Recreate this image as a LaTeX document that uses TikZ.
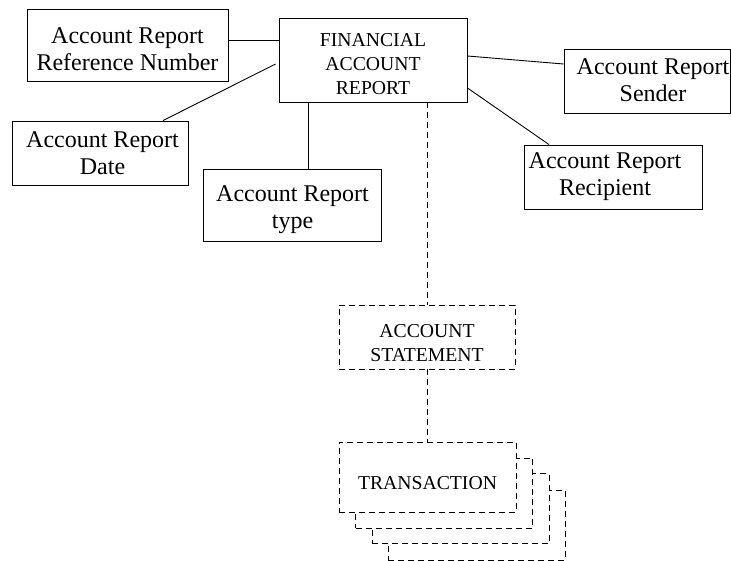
\documentclass[tikz,border=0pt]{standalone}
\usepackage{fontspec}
\setmainfont{Liberation Serif}
\begin{document}
\begin{tikzpicture}[x=1pt,y=-1pt,
  box/.style={draw,line width=0.9pt,inner sep=0pt},
  txt/.style={inner sep=0pt,align=center,font=\fontsize{24}{27}\selectfont},
  captxt/.style={inner sep=0pt,align=center,font=\fontsize{19.7}{24}\selectfont},
  dbox/.style={box,fill=white,dash pattern=on 6pt off 4pt},
  conn/.style={line width=0.9pt},
  dconn/.style={line width=0.9pt,dash pattern=on 6pt off 4pt}]
\useasboundingbox (0,0) rectangle (731,561);
% boxes
\node[box,minimum width=201pt,minimum height=72pt] (ref) at (127.5,45) {};
\node[box,minimum width=188pt,minimum height=84pt] (fin) at (373,60) {};
\node[box,minimum width=176pt,minimum height=64pt] (date) at (100,153) {};
\node[box,minimum width=178pt,minimum height=72pt] (type) at (292.5,205) {};
\node[box,minimum width=166pt,minimum height=64pt] (sender) at (647,81) {};
\node[box,minimum width=178pt,minimum height=64pt] (recip) at (613,177) {};
\node[dbox,minimum width=176pt,minimum height=64pt] (stmt) at (427,337) {};
\node[dbox,minimum width=177pt,minimum height=70pt] (t4) at (476.5,525) {};
\node[dbox,minimum width=177pt,minimum height=70pt] (t3) at (460.5,508.5) {};
\node[dbox,minimum width=177pt,minimum height=70pt] (t2) at (444,493) {};
\node[dbox,minimum width=177pt,minimum height=70pt] (trans) at (427.5,477) {};
% texts
\node[txt] (reft) at (127.5,49) {Account Report\\Reference Number};
\node[captxt] (fint) at (373,64) {FINANCIAL\\ACCOUNT\\REPORT};
\node[txt] (datet) at (102.5,153) {Account Report\\Date};
\node[txt] (typet) at (292.5,210) {Account Report\\type};
\node[txt] (sendert) at (653,80) {Account Report\\Sender};
\node[txt] (recipt) at (605,177) {Account Report\\Recipient};
\node[captxt] (stmtt) at (427,343) {ACCOUNT\\STATEMENT};
\node[captxt] (transt) at (427.5,483) {TRANSACTION};
% connectors
\draw[conn] ([yshift=5pt]ref.east) -- ([yshift=5pt]ref.east -| fin.west);
\draw[conn] ([xshift=63pt]date.north) -- ([xshift=-3pt,yshift=-4pt]fin.west);
\draw[conn] ([xshift=-65pt]fin.south) -- ([xshift=-65pt]fin.south |- type.north);
\draw[conn] ([yshift=4pt]fin.east) -- ([yshift=17pt]sender.west);
\draw[conn] ([yshift=-28pt]fin.east) -- ([xshift=-64pt]recip.north);
\draw[dconn] (fin.south -| stmt.north) -- (stmt.north);
\draw[dconn] (stmt.south) -- (stmt.south |- trans.north);
\end{tikzpicture}
\end{document}
